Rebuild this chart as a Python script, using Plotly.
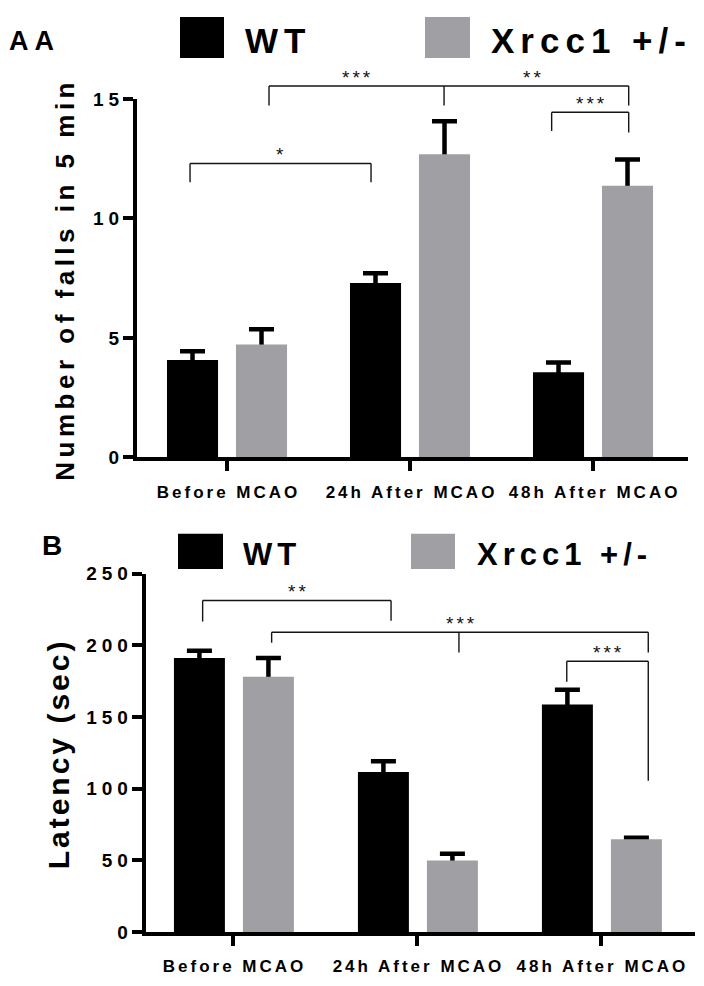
import plotly.graph_objects as go

# ---------------- data ----------------
categories = ["Before MCAO", "24h After MCAO", "48h After MCAO"]
series_names = ["WT", "Xrcc1 +/-"]

falls_wt = [4.07, 7.30, 3.56]
falls_wt_sem = [0.37, 0.40, 0.41]
falls_ko = [4.72, 12.68, 11.37]
falls_ko_sem = [0.64, 1.39, 1.09]

latency_wt = [191.3, 111.6, 158.8]
latency_wt_sem = [5.0, 7.5, 10.2]
latency_ko = [178.1, 49.9, 64.7]
latency_ko_sem = [13.2, 4.6, 1.1]

ticks_a = [0, 5, 10, 15]
ticks_b = [0, 50, 100, 150, 200, 250]

# significance brackets: (x_left, x_right, level, left_leg_end, right_leg_end)
brackets_a = [(-0.202, 0.787, 12.3, 11.51, 11.51),
              (0.2295, 2.195, 15.54, 14.72, 14.72),
              (1.774, 2.195, 14.44, 13.66, 13.59)]
mid_legs_a = [(1.186, 15.54, 14.72)]
stars_a = [("*", 0.29, 12.3), ("***", 0.71, 15.54), ("**", 1.667, 15.54), ("***", 1.984, 14.44)]

brackets_b = [(-0.165, 0.859, 231.4, 216.7, 217.2),
              (0.21, 2.257, 209.2, 201.9, 195.1),
              (1.814, 2.257, 189.0, 174.7, 105.5)]
mid_legs_b = [(1.228, 209.2, 195.1)]
stars_b = [("**", 0.348, 231.4), ("***", 1.2375, 209.2), ("***", 2.038, 189.0)]

# ---------------- style ----------------
BLACK = "#000000"
GREY = "#a09fa4"
FONT = "Liberation Sans, Arial, sans-serif"
PAGE_W, PAGE_H = 704, 986
OFF = 8                      # default page (body) margin
W, H = PAGE_W - OFF, PAGE_H - OFF


def spaced(s, px):
    if len(s) < 2:
        return s
    return f'<span style="letter-spacing:{px}px">{s[:-1]}</span>{s[-1]}'


def px_x(p):
    return (p - OFF) / W


def px_y(p):
    return 1 - (p - OFF) / H


fig = go.Figure()

panels = [
    dict(xa="x", ya="y", wt=falls_wt, wte=falls_wt_sem, ko=falls_ko, koe=falls_ko_sem,
         offs=(-0.328, 0.049), width=0.279, dminus=0.2),
    dict(xa="x2", ya="y2", wt=latency_wt, wte=latency_wt_sem, ko=latency_ko, koe=latency_ko_sem,
         offs=(-0.321, 0.054), width=0.277, dminus=2.4),
]

xs = list(range(len(categories)))
for p in panels:
    # error bars (drawn first so the bars hide their lower ends)
    for vals, errs, off in ((p["wt"], p["wte"], p["offs"][0]), (p["ko"], p["koe"], p["offs"][1])):
        fig.add_trace(go.Bar(
            x=xs, y=vals, xaxis=p["xa"], yaxis=p["ya"], offset=off, width=p["width"],
            marker=dict(color="rgba(0,0,0,0)", line=dict(width=0)), showlegend=False, hoverinfo="skip",
            error_y=dict(type="data", symmetric=False, array=errs,
                         arrayminus=[p["dminus"]] * len(errs),
                         color=BLACK, thickness=4.5, width=12.5)))
    for name, vals, col, off in ((series_names[0], p["wt"], BLACK, p["offs"][0]),
                                 (series_names[1], p["ko"], GREY, p["offs"][1])):
        fig.add_trace(go.Bar(
            x=xs, y=vals, name=name, xaxis=p["xa"], yaxis=p["ya"], offset=off, width=p["width"],
            marker=dict(color=col, line=dict(width=0)), showlegend=False))

shapes = []
annotations = []

# brackets
for brs, mids, stars, xref, yref, ymax in ((brackets_a, mid_legs_a, stars_a, "x", "y domain", 15),
                                            (brackets_b, mid_legs_b, stars_b, "x2", "y2 domain", 250)):
    ln = dict(color="#141414", width=1.4)
    for (x0, x1, lv, l0, l1) in brs:
        shapes.append(dict(type="line", xref=xref, yref=yref, x0=x0, x1=x1, y0=lv / ymax, y1=lv / ymax, line=ln))
        shapes.append(dict(type="line", xref=xref, yref=yref, x0=x0, x1=x0, y0=lv / ymax, y1=l0 / ymax, line=ln))
        shapes.append(dict(type="line", xref=xref, yref=yref, x0=x1, x1=x1, y0=lv / ymax, y1=l1 / ymax, line=ln))
    for (xm, lv, lm) in mids:
        shapes.append(dict(type="line", xref=xref, yref=yref, x0=xm, x1=xm, y0=lv / ymax, y1=lm / ymax, line=ln))
    for (txt, xm, lv) in stars:
        annotations.append(dict(text=spaced(txt, 3), xref=xref, yref=yref, x=xm, y=lv / ymax,
                                xanchor="center", yanchor="bottom", yshift=-4, showarrow=False,
                                font=dict(family=FONT, size=19, color="#111")))

# legends (drawn manually)
legend_rows = [
    dict(y0=7, y1=49, sq=[(180, 224, BLACK), (425, 470, GREY)], tx=[243, 489], ty=31, size=35, ls=6),
    dict(y0=535, y1=571, sq=[(178, 223, BLACK), (411, 455, GREY)], tx=[241, 475], ty=556, size=31, ls=5),
]
for row in legend_rows:
    for (a, b, col), tx, name in zip(row["sq"], row["tx"], series_names):
        shapes.append(dict(type="rect", xref="paper", yref="paper", x0=px_x(a), x1=px_x(b),
                           y0=px_y(row["y1"]), y1=px_y(row["y0"]), fillcolor=col, line=dict(width=0)))
        annotations.append(dict(text=spaced(name, row["ls"]), xref="paper", yref="paper",
                                x=px_x(tx), y=px_y(row["ty"]), xanchor="left", yanchor="middle",
                                showarrow=False,
                                font=dict(family=FONT, size=row["size"], color=BLACK, weight="bold")))

# panel letters
annotations.append(dict(text=spaced("AA", 6), xref="paper", yref="paper", x=px_x(31), y=px_y(31),
                        xanchor="center", yanchor="middle", showarrow=False,
                        font=dict(family=FONT, size=27, color=BLACK, weight="bold")))
annotations.append(dict(text="B", xref="paper", yref="paper", x=px_x(52), y=px_y(547),
                        xanchor="center", yanchor="middle", showarrow=False,
                        font=dict(family=FONT, size=28, color=BLACK, weight="bold")))

# y-axis titles
annotations.append(dict(text=spaced("Number of falls in 5 min", 4.5), xref="paper", yref="paper",
                        x=px_x(65), y=px_y(277.5), textangle=-90, xanchor="center", yanchor="middle",
                        showarrow=False, font=dict(family=FONT, size=26, color=BLACK, weight="bold")))
annotations.append(dict(text=spaced("Latency (sec)", 3), xref="paper", yref="paper",
                        x=px_x(58), y=px_y(761.5), textangle=-90, xanchor="center", yanchor="middle",
                        showarrow=False, font=dict(family=FONT, size=30, color=BLACK, weight="bold")))

tickfont = dict(family=FONT, size=19, color=BLACK, weight="bold")
xtickfont = dict(family=FONT, size=17, color=BLACK, weight="bold")

axis_common = dict(showline=True, linecolor=BLACK, linewidth=4, ticks="outside", ticklen=10,
                   tickwidth=3.5, tickcolor=BLACK, showgrid=False, zeroline=False, fixedrange=True)

fig.update_layout(
    width=W, height=H, margin=dict(l=0, r=0, t=0, b=0),
    paper_bgcolor="white", plot_bgcolor="white", barmode="overlay", showlegend=False,
    xaxis=dict(domain=[px_x(137), px_x(688)], range=[-0.4918, 2.519], anchor="y",
               tickmode="array", tickvals=xs, ticktext=[spaced(c, 3) for c in categories],
               tickfont=xtickfont, ticklabelstandoff=6, **axis_common),
    yaxis=dict(domain=[px_y(457), px_y(90.7)], range=[0, 15], anchor="x",
               tickmode="array", tickvals=ticks_a, ticktext=[spaced(str(t), 5) for t in ticks_a],
               tickfont=tickfont, **axis_common),
    xaxis2=dict(domain=[px_x(145.7), px_x(695)], range=[-0.4745, 2.511], anchor="y2",
                tickmode="array", tickvals=xs, ticktext=[spaced(c, 3) for c in categories],
                tickfont=xtickfont, ticklabelstandoff=6, **axis_common),
    yaxis2=dict(domain=[px_y(942), px_y(576)], range=[0, 250], anchor="x2",
                tickmode="array", tickvals=ticks_b, ticktext=[spaced(str(t), 5) for t in ticks_b],
                tickfont=tickfont, **axis_common),
    shapes=shapes, annotations=annotations,
)

fig.write_html("out.html")
